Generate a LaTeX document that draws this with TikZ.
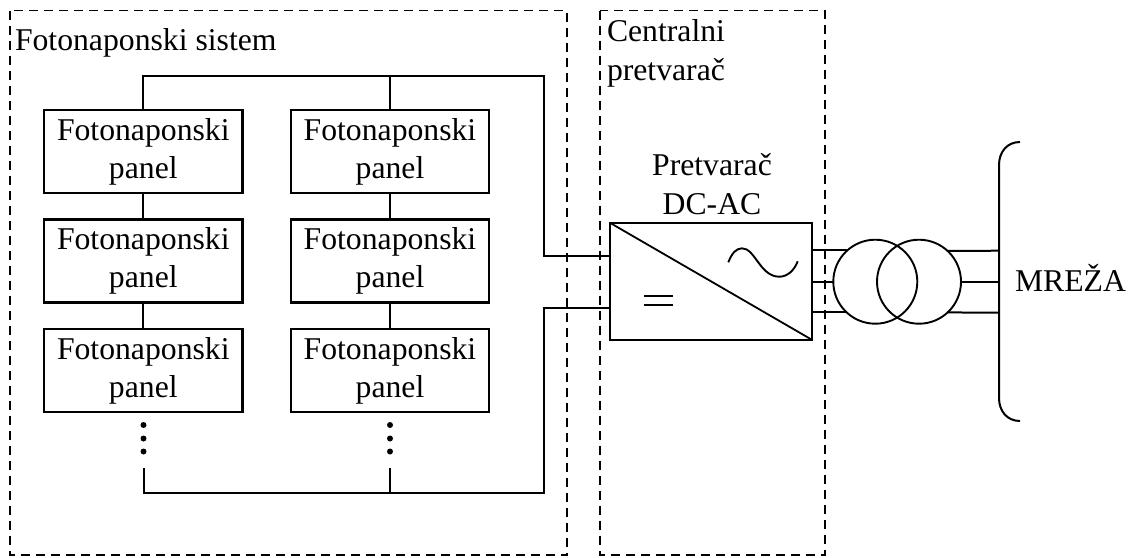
\documentclass[tikz,border=0pt]{standalone}
\usepackage{fontspec}
\setmainfont{Liberation Serif}
\tikzset{
  x=1pt,y=-1pt,
  wire/.style={line width=2pt,line join=miter},
  zone/.style={draw,line width=1.8pt,dash pattern=on 9pt off 6pt},
  panel/.style={draw,line width=2.1pt,outer sep=0pt,minimum width=198.3pt,minimum height=83pt,inner sep=0pt,align=center,font=\fontsize{31.7}{37.5}\selectfont},
  lbl/.style={inner sep=0pt,outer sep=0pt,align=left,font=\fontsize{31.7}{38.5}\selectfont},
  dotn/.style={circle,fill=black,minimum size=6pt,inner sep=0pt},
  winding/.style={circle,draw,line width=1.9pt,minimum size=84pt,inner sep=0pt,outer sep=0pt}
}
\begin{document}
\begin{tikzpicture}
\useasboundingbox (0,0) rectangle (1131,557);
\fill[white] (0,0) rectangle (1131,557);
% zones
\draw[zone] (10,10.5) rectangle (567,555);
\draw[zone] (600.3,10.5) rectangle (824.7,555);
\node[lbl,anchor=base west] (tfs) at (15,50) {Fotonaponski sistem};
\node[lbl,anchor=base west] (tcp) at (607,80) {Centralni\\pretvarač};
% panels
\node[panel] (a1) at (143.3,151.7) {Fotonaponski\\panel};
\node[panel] (a2) at (143.3,261) {Fotonaponski\\panel};
\node[panel] (a3) at (143.3,370.8) {Fotonaponski\\panel};
\node[panel] (b1) at (390,151.7) {Fotonaponski\\panel};
\node[panel] (b2) at (390,261) {Fotonaponski\\panel};
\node[panel] (b3) at (390,370.8) {Fotonaponski\\panel};
% panel links
\draw[wire] (a1) -- (a2);
\draw[wire] (a2) -- (a3);
\draw[wire] (b1) -- (b2);
\draw[wire] (b2) -- (b3);
% dots
\foreach \n/\x in {a/143.5,b/390}{
  \node[dotn] (\n d1) at (\x,425) {};
  \node[dotn] (\n d2) at (\x,438.5) {};
  \node[dotn] (\n d3) at (\x,451.5) {};
}
% converter
\node[draw,line width=2.2pt,outer sep=0pt,minimum width=202pt,minimum height=117pt,inner sep=0pt] (conv) at (711.3,281.5) {};
\draw[line width=1.8pt] (conv.north west) -- (conv.south east);
\node[lbl,align=center,anchor=base] (tconv) at (712,214) {Pretvarač\\DC-AC};
\draw[line width=2pt] (644.3,296.3) -- (673,296.3);
\draw[line width=2pt] (644.3,305.3) -- (673,305.3);
\draw[line width=1.9pt] (728.3,262.3) .. controls (732,253) and (736,248.5) .. (742,248.3) .. controls (755,248) and (760,276.7) .. (779.3,276.7) .. controls (787,276.7) and (794,271) .. (797.7,261.3);
% rails
\coordinate (ra) at (544,75.5);
\coordinate (rb) at (544,493);
\coordinate (ia) at (610.3,256);
\coordinate (ib) at (610.3,308);
\coordinate (au) at (143.5,468);
\coordinate (bu) at (390,468);
\draw[wire] (a1.north) |- (ra) |- (ia);
\draw[wire] (b1.north) -- (b1.north |- ra);
\draw[wire] (au) |- (rb) |- (ib);
\draw[wire] (bu) -- (bu |- rb);
% transformer
\node[winding] (t1) at (875.3,281.7) {};
\node[winding] (t2) at (919,281.7) {};
% grid bus
\coordinate (gt) at (1020,142);
\coordinate (gb) at (1020,421);
\draw[wire] (gt) .. controls (1007,142) and (999,152) .. (999,165) -- (999,398) .. controls (999,411) and (1007,421) .. (gb);
\draw[wire] (conv.east |- t1.132.4) -- (t1.132.4);
\draw[wire] (conv.east |- t1.west) -- (t1.west);
\draw[wire] (conv.east |- t1.227.6) -- (t1.227.6);
\draw[wire] (t2.47.6) -- (999,250.7);
\draw[wire] (t2.east) -- (999,281.7);
\draw[wire] (t2.-47.6) -- (999,312.7);
\node[lbl,anchor=base west] (tgrid) at (1015,291.7) {MREŽA};
\end{tikzpicture}
\end{document}
